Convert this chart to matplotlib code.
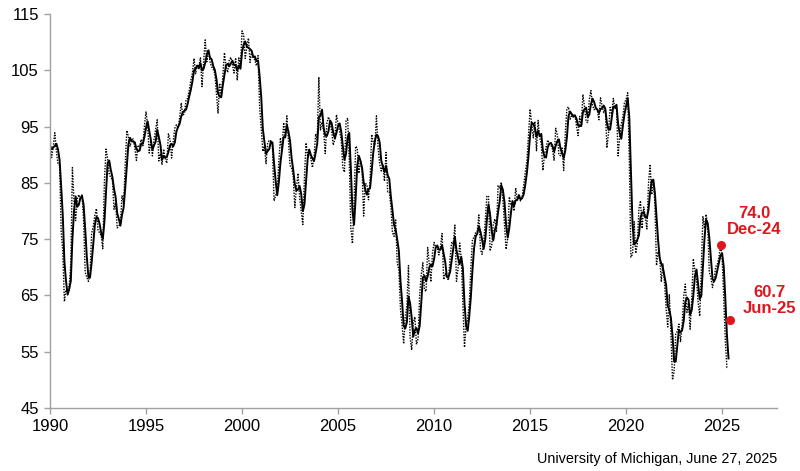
import matplotlib
matplotlib.use("Agg")
import matplotlib.pyplot as plt
import numpy as np
import pandas as pd

plt.rcParams['font.family'] = ['Liberation Sans', 'DejaVu Sans']

# Monthly index of consumer sentiment, starting Oct 1989
start_year = 1989
start_month = 10
s_1989_1999 = [
    93.9, 90.9, 90.5,
    93.0, 89.5, 91.3, 93.9, 90.6, 88.3, 88.2, 76.4, 72.8, 63.9, 66.0, 65.5,
    66.8, 70.4, 87.7, 81.8, 78.3, 82.1, 82.9, 82.0, 83.0, 78.3, 69.1, 68.2,
    67.5, 68.8, 76.0, 77.2, 79.2, 80.4, 76.6, 76.1, 75.6, 73.3, 85.3, 91.0,
    89.3, 86.6, 85.9, 85.6, 80.3, 81.5, 77.0, 77.3, 77.9, 82.7, 81.2, 88.2,
    94.3, 93.2, 91.5, 92.6, 92.8, 91.2, 89.0, 91.7, 91.5, 92.7, 91.6, 95.1,
    97.6, 95.1, 90.3, 92.5, 89.8, 92.7, 94.4, 96.2, 88.9, 90.2, 88.2, 91.0,
    89.3, 88.5, 93.7, 92.7, 89.4, 92.4, 94.7, 95.3, 94.7, 96.5, 99.2, 96.9,
    97.4, 99.7, 100.0, 101.4, 103.2, 104.5, 107.1, 104.4, 106.0, 105.6, 107.2, 102.1,
    106.6, 110.4, 106.5, 108.7, 106.5, 105.6, 105.2, 104.4, 100.9, 97.4, 102.7, 100.5,
    103.9, 108.1, 105.7, 104.6, 106.8, 107.3, 106.0, 104.5, 107.2, 103.2, 107.2, 105.4,
]
s_2000_2009 = [
    112.0, 111.3, 107.1, 109.2, 110.7, 106.4, 108.3, 107.3, 106.8, 105.8, 107.6, 98.4,
    94.7, 90.6, 91.5, 88.4, 92.0, 92.6, 92.4, 91.5, 81.8, 82.7, 83.9, 88.8,
    93.0, 90.7, 95.7, 93.0, 96.9, 92.4, 88.1, 87.6, 86.1, 80.6, 84.2, 86.7,
    82.4, 79.9, 77.6, 86.0, 92.1, 89.7, 90.9, 89.3, 87.7, 89.6, 93.7, 92.6,
    103.8, 94.4, 95.8, 94.2, 90.2, 95.6, 96.7, 95.9, 94.2, 91.7, 92.8, 97.1,
    95.5, 94.1, 92.6, 87.7, 86.9, 96.0, 96.5, 89.1, 76.9, 74.2, 81.6, 91.5,
    91.2, 86.7, 88.9, 87.4, 79.1, 84.9, 84.7, 82.0, 85.4, 93.6, 92.1, 91.7,
    96.9, 91.3, 88.4, 87.1, 88.3, 85.3, 90.4, 83.4, 83.4, 80.9, 76.1, 75.5,
    78.4, 70.8, 69.5, 62.6, 59.8, 56.4, 61.2, 63.0, 70.3, 57.6, 55.3, 60.1,
    61.2, 56.3, 57.3, 65.1, 68.7, 70.8, 66.0, 65.7, 73.5, 70.6, 67.4, 72.5,
]
s_2010_2019 = [
    74.4, 73.6, 73.6, 72.2, 73.6, 76.0, 67.8, 68.9, 68.2, 67.7, 71.6, 74.5,
    74.2, 77.5, 67.5, 69.8, 74.3, 71.5, 63.7, 55.8, 59.5, 60.8, 63.7, 69.9,
    75.0, 75.3, 76.2, 76.4, 79.3, 73.2, 72.3, 74.3, 78.3, 82.6, 82.7, 72.9,
    73.8, 77.6, 78.6, 76.4, 84.5, 84.1, 85.1, 82.1, 77.5, 73.2, 75.1, 82.5,
    81.2, 81.6, 80.0, 84.1, 81.9, 82.5, 81.8, 82.5, 84.6, 86.9, 88.8, 93.6,
    98.1, 95.4, 93.0, 95.9, 90.7, 96.1, 93.1, 91.9, 87.2, 90.0, 91.3, 92.6,
    92.0, 91.7, 91.0, 89.0, 94.7, 93.5, 90.0, 89.8, 91.2, 87.2, 93.8, 98.2,
    98.5, 96.3, 96.9, 97.0, 97.1, 95.1, 93.4, 96.8, 95.1, 100.7, 98.5, 95.9,
    95.7, 99.7, 101.4, 98.8, 98.0, 98.2, 97.9, 96.2, 100.1, 98.6, 97.5, 98.3,
    91.2, 93.8, 98.4, 97.2, 100.0, 98.2, 98.4, 89.8, 93.2, 95.5, 96.8, 99.3,
]
s_2020_2025 = [
    99.8, 101.0, 89.1, 71.8, 72.3, 78.1, 72.5, 74.1, 80.4, 81.8, 76.9, 80.7,
    79.0, 76.8, 84.9, 88.3, 82.9, 85.5, 81.2, 70.3, 72.8, 71.7, 67.4, 70.6,
    67.2, 62.8, 59.4, 65.2, 58.4, 50.0, 51.5, 58.2, 58.6, 59.9, 56.8, 59.7,
    64.9, 67.0, 62.0, 63.7, 59.0, 64.4, 71.5, 69.4, 67.9, 63.8, 61.3, 69.7,
    79.0, 76.9, 79.4, 77.2, 69.1, 68.2, 66.4, 67.9, 70.1, 70.5, 71.8, 74.0,
    71.7, 64.7, 57.0, 52.2, 52.2,
]

# Highlighted points
hl_labels = ["Dec-24", "Jun-25"]
hl_times = [2024 + 11 / 12, 2025 + 5 / 12]
hl_values = [74.0, 60.7]

x_ticks = [1990, 1995, 2000, 2005, 2010, 2015, 2020, 2025]
y_ticks = [45, 55, 65, 75, 85, 95, 105, 115]
source = "University of Michigan, June 27, 2025"

values = pd.Series(s_1989_1999 + s_2000_2009 + s_2010_2019 + s_2020_2025)
t = start_year + (start_month - 1) / 12 + np.arange(len(values)) / 12
avg3 = values.rolling(3).mean()

red = '#E0161E'
axis_gray = '#A0A0A0'

fig = plt.figure(figsize=(8, 4.71), dpi=100)
ax = fig.add_axes([0.0625, 0.1338, 0.9088, 0.8365])

ax.plot(t, values, color='black', lw=1.0, linestyle=(0, (1, 1)))
ax.plot(t, avg3, color='black', lw=1.4, solid_joinstyle='round')

ax.plot(hl_times, hl_values, 'o', color=red, markersize=5.5, zorder=5)
ax.annotate(f"{hl_values[0]:.1f}\n{hl_labels[0]}", xy=(hl_times[0], hl_values[0]),
            xytext=(34, 23), textcoords='offset pixels', ha='center', va='center',
            color=red, fontsize=12, fontweight='bold', linespacing=1.05)
ax.annotate(f"{hl_values[1]:.1f}\n{hl_labels[1]}", xy=(hl_times[1], hl_values[1]),
            xytext=(39, 19), textcoords='offset pixels', ha='center', va='center',
            color=red, fontsize=12, fontweight='bold', linespacing=1.05)

ax.set_xlim(1990, 2027.86)
ax.set_ylim(45, 115)
ax.set_xticks(x_ticks)
ax.set_yticks(y_ticks)
ax.set_xticklabels([str(v) for v in x_ticks])
ax.set_yticklabels([str(v) for v in y_ticks])

for side in ['top', 'right']:
    ax.spines[side].set_visible(False)
for side in ['left', 'bottom']:
    ax.spines[side].set_color(axis_gray)
    ax.spines[side].set_linewidth(1.0)
ax.tick_params(axis='both', direction='out', length=4, width=1.0, color=axis_gray,
               labelsize=12, labelcolor='black', pad=4)

fig.text(0.971, 0.017, source, ha='right', va='baseline', fontsize=10.4, color='black')

fig.savefig('out.png', dpi=100)
